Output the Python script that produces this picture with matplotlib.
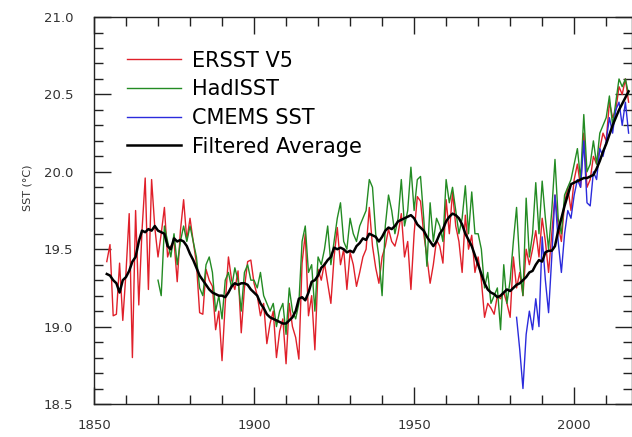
import numpy as np
import matplotlib
matplotlib.use("Agg")
import matplotlib.pyplot as plt
from matplotlib.ticker import MultipleLocator

# ERSST V5, 1854-2017
ersst_years = np.arange(1854, 2018)
ersst = [
    19.42, 19.53, 19.07, 19.08, 19.41, 19.04,
    19.35, 19.73, 18.80, 19.75, 19.14, 19.62, 19.96, 19.24, 19.95, 19.64,
    19.45, 19.60, 19.77, 19.45, 19.52, 19.55, 19.29, 19.62, 19.82, 19.56,
    19.70, 19.55, 19.41, 19.09, 19.08, 19.37, 19.30, 19.26, 18.98, 19.10,
    18.78, 19.15, 19.45, 19.30, 19.24, 19.36, 18.96, 19.25, 19.42, 19.43,
    19.28, 19.20, 19.07, 19.15, 18.89, 19.02, 19.10, 18.80, 18.97, 19.05,
    18.76, 19.15, 19.00, 18.93, 18.79, 19.41, 19.60, 19.07, 19.20, 18.85,
    19.37, 19.30, 19.41, 19.28, 19.15, 19.45, 19.64, 19.40, 19.50, 19.24,
    19.48, 19.40, 19.26, 19.35, 19.45, 19.50, 19.77, 19.52, 19.38, 19.28,
    19.45, 19.52, 19.63, 19.55, 19.52, 19.60, 19.73, 19.45, 19.55, 19.24,
    19.60, 19.84, 19.81, 19.60, 19.45, 19.28, 19.40, 19.56, 19.52, 19.41,
    19.82, 19.60, 19.87, 19.65, 19.55, 19.35, 19.72, 19.50, 19.59, 19.35,
    19.45, 19.30, 19.06, 19.15, 19.12, 19.08, 19.20, 19.18, 19.22, 19.15,
    19.06, 19.45, 19.25, 19.35, 19.20, 19.50, 19.40, 19.50, 19.62, 19.45,
    19.70, 19.55, 19.35, 19.60, 19.85, 19.65, 19.55, 19.80, 19.90, 19.75,
    19.95, 20.05, 19.90, 20.25, 19.90, 19.95, 20.10, 20.05, 20.15, 20.25,
    20.20, 20.45, 20.35, 20.40, 20.55, 20.50, 20.60, 20.45,
]

# HadISST, 1870-2017
hadisst_years = np.arange(1870, 2018)
hadisst = [
    19.30, 19.20, 19.65, 19.55, 19.45, 19.60, 19.40, 19.55, 19.65, 19.55,
    19.65, 19.55, 19.45, 19.25, 19.20, 19.40, 19.45, 19.35, 19.10, 19.20,
    19.05, 19.30, 19.35, 19.25, 19.38, 19.30, 19.10, 19.35, 19.40, 19.30,
    19.30, 19.25, 19.35, 19.20, 19.15, 19.10, 19.15, 19.00, 19.10, 19.15,
    18.95, 19.25, 19.10, 19.05, 19.15, 19.55, 19.65, 19.35, 19.40, 19.10,
    19.45, 19.40, 19.50, 19.65, 19.40, 19.55, 19.70, 19.80, 19.55, 19.50,
    19.70, 19.60, 19.55, 19.65, 19.70, 19.75, 19.95, 19.90, 19.60, 19.45,
    19.20, 19.65, 19.85, 19.75, 19.60, 19.70, 19.95, 19.65, 19.75, 20.03,
    19.75, 19.95, 19.97, 19.70, 19.39, 19.80, 19.55, 19.70, 19.65, 19.55,
    19.95, 19.80, 19.90, 19.75, 19.60, 19.70, 19.91, 19.60, 19.87, 19.60,
    19.60, 19.50, 19.25, 19.35, 19.15, 19.20, 19.25, 18.98, 19.40, 19.15,
    19.30, 19.55, 19.77, 19.40, 19.20, 19.83, 19.45, 19.60, 19.93, 19.60,
    19.94, 19.70, 19.50, 19.75, 20.08, 19.70, 19.60, 19.85, 19.90, 19.95,
    20.05, 20.15, 19.95, 20.37, 20.00, 20.05, 20.20, 20.05, 20.25, 20.30,
    20.35, 20.49, 20.30, 20.45, 20.60, 20.55, 20.60, 20.50,
]

# CMEMS SST, 1982-2017
cmems_years = np.arange(1982, 2018)
cmems = [
    19.06, 18.85, 18.60, 18.95, 19.10, 18.98, 19.18, 19.00,
    19.58, 19.30, 19.09, 19.45, 19.85, 19.55, 19.35, 19.60, 19.75, 19.70,
    19.85, 19.95, 19.90, 20.20, 19.80, 19.78, 20.00, 19.95, 20.15, 20.10,
    20.20, 20.35, 20.25, 20.40, 20.45, 20.30, 20.45, 20.25,
]

# filtered average, 1854-2017
avg_years = np.arange(1854, 2018)
filtered_avg = [
    19.34, 19.33, 19.30, 19.28, 19.22, 19.30,
    19.32, 19.36, 19.42, 19.45, 19.55, 19.62, 19.61, 19.63, 19.62, 19.65,
    19.62, 19.61, 19.60, 19.52, 19.50, 19.57, 19.55, 19.56, 19.55, 19.52,
    19.47, 19.43, 19.38, 19.33, 19.30, 19.27, 19.24, 19.22, 19.21, 19.20,
    19.20, 19.19, 19.22, 19.26, 19.28, 19.27, 19.28, 19.28, 19.27, 19.24,
    19.22, 19.20, 19.15, 19.12, 19.08, 19.06, 19.05, 19.04, 19.03, 19.02,
    19.02, 19.04, 19.06, 19.10, 19.18, 19.19, 19.17, 19.22, 19.29, 19.30,
    19.33, 19.38, 19.40, 19.43, 19.45, 19.51, 19.50, 19.51, 19.50, 19.48,
    19.49, 19.48, 19.52, 19.54, 19.57, 19.56, 19.60, 19.59, 19.58, 19.55,
    19.58, 19.62, 19.64, 19.63, 19.65, 19.68, 19.69, 19.70, 19.71, 19.72,
    19.70, 19.66, 19.64, 19.62, 19.58, 19.55, 19.52, 19.55, 19.60, 19.63,
    19.68, 19.71, 19.73, 19.72, 19.70, 19.66, 19.60, 19.56, 19.52, 19.46,
    19.40, 19.34, 19.28, 19.24, 19.22, 19.21, 19.19, 19.20, 19.22, 19.24,
    19.23, 19.25, 19.27, 19.28, 19.30, 19.32, 19.35, 19.36, 19.40, 19.43,
    19.42, 19.48, 19.49, 19.49, 19.52, 19.62, 19.70, 19.78, 19.85, 19.92,
    19.93, 19.94, 19.95, 19.96, 19.96, 19.97, 19.98, 20.02, 20.07, 20.13,
    20.18, 20.24, 20.30, 20.35, 20.40, 20.44, 20.48, 20.52,
]

fig = plt.figure(figsize=(6.32, 4.37), dpi=100)
ax = fig.add_axes([0.1487, 0.0755, 0.851, 0.8855])

ax.plot(ersst_years, ersst, color="#e0202a", lw=1.0, label="ERSST V5")
ax.plot(hadisst_years, hadisst, color="#238b23", lw=1.0, label="HadISST")
ax.plot(cmems_years, cmems, color="#2b2bdc", lw=1.0, label="CMEMS SST")
ax.plot(avg_years, filtered_avg, color="black", lw=1.8, label="Filtered Average")

ax.set_xlim(1850, 2018)
ax.set_ylim(18.5, 21.0)
ax.xaxis.set_major_locator(MultipleLocator(50))
ax.xaxis.set_minor_locator(MultipleLocator(10))
ax.yaxis.set_major_locator(MultipleLocator(0.5))
ax.yaxis.set_minor_locator(MultipleLocator(0.1))
ax.yaxis.set_major_formatter(plt.FormatStrFormatter("%.1f"))

ax.tick_params(which="both", direction="in", top=True, right=True, width=1.0, color="#222222")
ax.tick_params(which="major", length=12)
ax.tick_params(which="minor", length=6.5)
ax.tick_params(axis="y", which="major", pad=15, labelsize=9.5, labelcolor="#333333")
ax.tick_params(axis="x", which="major", pad=11, labelsize=9.5, labelcolor="#333333")
for s in ax.spines.values():
    s.set_linewidth(1.0)
    s.set_color("#222222")

ax.set_ylabel("SST (°C)", fontsize=8, color="#333333")
ax.yaxis.set_label_coords(-0.115, 0.56)

ax.legend(loc="upper left", bbox_to_anchor=(0.045, 0.935), frameon=False, fontsize=15,
          handlelength=2.6, handletextpad=0.55, labelspacing=0.42, borderaxespad=0.0)

fig.savefig("out.png", dpi=100)
